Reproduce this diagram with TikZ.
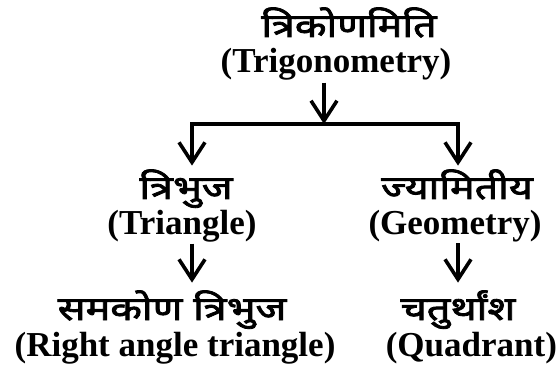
\documentclass[tikz,border=0pt]{standalone}
\usepackage{fontspec}
\setmainfont{Liberation Serif}
\newfontfamily\deva[Script=Devanagari,FakeBold=2.5,FakeStretch=1.25]{Noto Sans}
\usetikzlibrary{arrows.meta}
\tikzset{
  en/.style={font=\fontsize{35}{35}\selectfont\bfseries, inner sep=0pt, anchor=base},
  hi/.style={font=\deva\fontsize{33}{33}\selectfont, inner sep=0pt, anchor=base},
  barb/.tip={Straight Barb[length=20pt,width=26pt]},
  arr/.style={-barb},
}
\begin{document}
\begin{tikzpicture}[x=1pt,y=-1pt,line width=3.6pt]
\useasboundingbox (0,0) rectangle (560,377);
% top
\node[hi] (t1) at (349,37) {त्रिकोणमिति};
\node[en] (t2) at (336,73) {(Trigonometry)};
% junction
\coordinate (j) at (324,124);
\coordinate (jl) at (192,124);
\coordinate (jr) at (458,124);
% left branch
\node[hi] (l1) at (186,199) {त्रिभुज};
\node[en] (l2) at (182,234) {(Triangle)};
\node[hi] (l3) at (172,320) {समकोण त्रिभुज};
\node[en] (l4) at (175,356) {(Right angle triangle)};
% right branch
\node[hi] (r1) at (457,199) {ज्यामितीय};
\node[en] (r2) at (455,234) {(Geometry)};
\node[hi] (r3) at (458,320) {चतुर्थांश};
\node[en, anchor=base west] (r4) at (384,356) {(Quadrant)};
% connectors
\draw[arr] (t2.south -| j) -- (j);
\draw[barb-barb, shorten <=2pt, shorten >=2pt] (jl |- l1.north) -- (jl) -- (jr) -- (jr |- r1.north);
\draw[arr, shorten >=6pt] (l2.south -| jl) -- (l3.north -| jl);
\draw[arr, shorten >=6pt] (r2.south -| jr) -- (r3.north -| jr);
\end{tikzpicture}
\end{document}
